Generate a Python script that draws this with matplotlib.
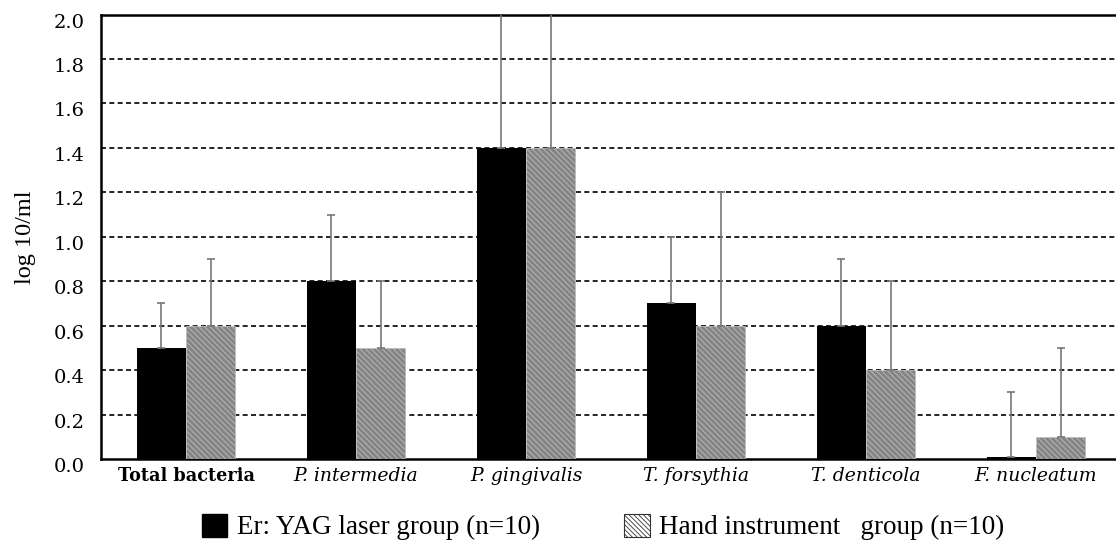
import matplotlib
matplotlib.use("Agg")
import matplotlib.pyplot as plt
import matplotlib.patches as mpatches
import matplotlib.transforms as mtransforms
import numpy as np

categories = ["Total bacteria", "P. intermedia", "P. gingivalis",
              "T. forsythia", "T. denticola", "F. nucleatum"]
laser_mean = [0.5, 0.8, 1.4, 0.7, 0.6, 0.01]
laser_err = [0.2, 0.3, 0.8, 0.3, 0.3, 0.29]
hand_mean = [0.6, 0.5, 1.4, 0.6, 0.4, 0.1]
hand_err = [0.3, 0.3, 0.8, 0.6, 0.4, 0.4]
yticks = [0.0, 0.2, 0.4, 0.6, 0.8, 1.0, 1.2, 1.4, 1.6, 1.8, 2.0]
legend_labels = ["Er: YAG laser group (n=10)", "Hand instrument   group (n=10)"]

W, H = 1116, 541
fig = plt.figure(figsize=(W / 100, H / 100), dpi=100)
ax = fig.add_axes([101 / W, 1 - 459 / H, (1121 - 101) / W, (459 - 14.5) / H])

x = np.arange(len(categories))
bw = 0.29
hand_col = "#858585"
plt.rcParams['hatch.linewidth'] = 0.6
plt.rcParams['hatch.color'] = '#5a5a5a'

ax.bar(x - bw / 2, laser_mean, bw, color="black", zorder=3)
ax.bar(x + bw / 2, hand_mean, bw, facecolor=hand_col, edgecolor="#bdbdbd",
       linewidth=0.6, hatch="\\\\\\\\\\\\", zorder=3)
ax.errorbar(x - bw / 2, laser_mean, yerr=[np.zeros(6), laser_err], fmt="none",
            ecolor="#777777", elinewidth=1.2, capsize=3, capthick=1.2, zorder=4)
ax.errorbar(x + bw / 2, hand_mean, yerr=[np.zeros(6), hand_err], fmt="none",
            ecolor="#777777", elinewidth=1.2, capsize=3, capthick=1.2, zorder=4)

ax.set_xlim(-0.5, 5.5)
ax.set_ylim(0, 2.0)
ax.set_yticks(yticks)
ax.set_yticklabels([f"{v:.1f}" for v in yticks], family="DejaVu Serif", fontsize=14)
ax.set_xticks(x)
ax.set_xticklabels(categories, family="DejaVu Serif", fontsize=13.5)
for i, lab in enumerate(ax.get_xticklabels()):
    if i == 0:
        lab.set_fontweight("bold")
        lab.set_fontsize(12.7)
    else:
        lab.set_fontstyle("italic")
ax.tick_params(axis="both", length=0)
ax.tick_params(axis="x", pad=6)
ax.tick_params(axis="y", pad=11.5)
off = mtransforms.ScaledTranslation(0, -6 / 100, fig.dpi_scale_trans)
for lab in ax.get_yticklabels():
    lab.set_transform(lab.get_transform() + off)

for v in yticks[1:-1]:
    ax.axhline(v, color="black", linestyle=(0, (3, 2)), linewidth=1.2, zorder=1)

for s in ["left", "bottom", "top"]:
    ax.spines[s].set_linewidth(1.8)
ax.spines["right"].set_visible(False)

ax.set_ylabel("log 10/ml", family="Liberation Serif", fontsize=17.5)
ax.yaxis.set_label_coords((36 - 101) / 1020, 0.5)

handles = [mpatches.Patch(facecolor="black", edgecolor="black"),
           mpatches.Patch(facecolor="white", edgecolor="#333333", hatch="\\\\\\\\\\\\\\", linewidth=0.8)]
leg = fig.legend(handles, legend_labels, loc="center", bbox_to_anchor=(603 / W, 1 - 527 / H),
                 ncol=2, frameon=False, prop={"family": "Liberation Serif", "size": 19.5},
                 handlelength=0.95, handleheight=0.95, handletextpad=0.35, columnspacing=3.1,
                 borderpad=0, borderaxespad=0)

fig.savefig("out.png", dpi=100)
